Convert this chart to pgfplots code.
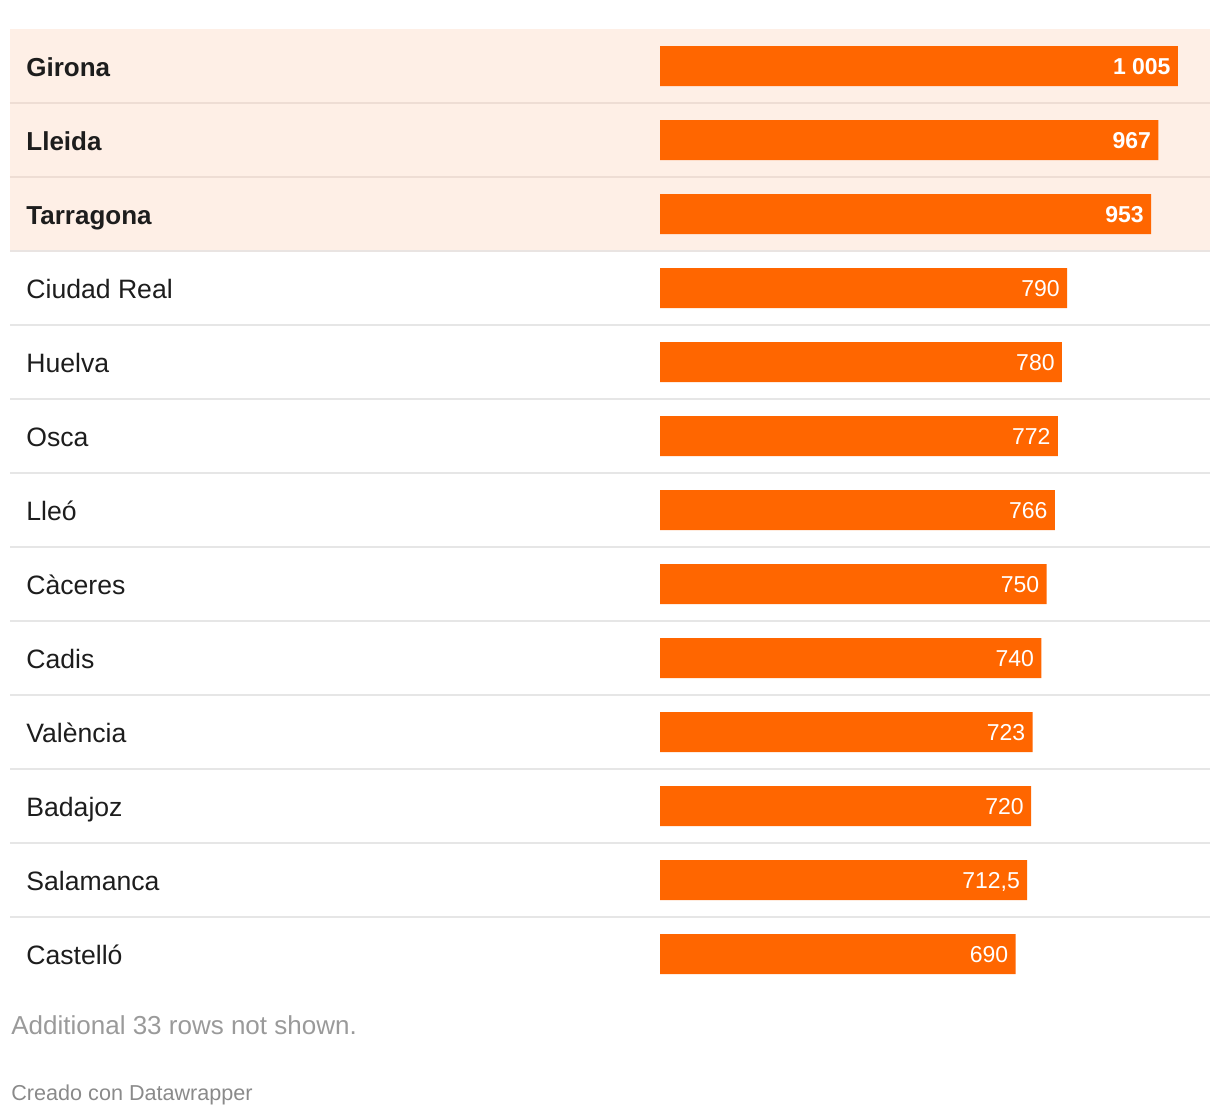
\documentclass[border=0pt]{standalone}
\usepackage{pgfplots}
\pgfplotsset{compat=1.18}
\usepackage{fontspec}
\setmainfont{Liberation Sans}
\definecolor{barorange}{HTML}{FF6600}
\definecolor{hlbg}{HTML}{FEEFE6}
\definecolor{hlline}{HTML}{EEDDD4}
\definecolor{rowline}{HTML}{E6E6E6}
\definecolor{edgeline}{HTML}{E9E4E2}
\definecolor{labeltext}{HTML}{1D1D1D}
\definecolor{notegray}{HTML}{9A9A9A}
\definecolor{creditgray}{HTML}{8A8A8A}

\newcommand{\hl}[1]{{\fontsize{13}{16}\selectfont\bfseries #1}}

\pgfplotsset{rowframe/.style={
  at={(5pt,62.5pt)}, anchor=south west,
  width=600pt, height=481pt, scale only axis,
  xmin=-1261.2, xmax=1067.2,
  ymin=-0.5, ymax=12.5, y dir=reverse,
  axis line style={draw=none},
  major tick length=0pt,
  clip=false,
}}

\begin{document}
\begin{tikzpicture}
\path (0,0) rectangle (610pt,558pt);
% row backgrounds and separators
\begin{axis}[rowframe, xtick=\empty, ytick=\empty]
  \fill[hlbg] (axis cs:-1261.2,-0.5) rectangle (axis cs:1067.2,2.5);
  \draw[hlline, line width=1pt] (axis cs:-1261.2,0.5) -- (axis cs:1067.2,0.5);
  \draw[hlline, line width=1pt] (axis cs:-1261.2,1.5) -- (axis cs:1067.2,1.5);
  \draw[edgeline, line width=1pt] (axis cs:-1261.2,2.5) -- (axis cs:1067.2,2.5);
  \pgfplotsinvokeforeach{3,...,11}{
    \draw[rowline, line width=1pt] (axis cs:-1261.2,#1+0.5) -- (axis cs:1067.2,#1+0.5);
  }
\end{axis}
% bars and labels
\begin{axis}[
  rowframe,
  xtick=\empty,
  ytick={0,...,12},
  yticklabels={\hl{Girona},\hl{Lleida},\hl{Tarragona},Ciudad Real,Huelva,Osca,Lleó,Càceres,Cadis,València,Badajoz,Salamanca,Castelló},
  yticklabel style={anchor=base west, inner sep=0pt, xshift=8pt, yshift=-5pt,
    font=\fontsize{13.3}{16}\selectfont, text=labeltext},
  xbar, bar width=20pt, bar shift=0pt,
  point meta=explicit symbolic,
  every node near coord/.append style={anchor=base east, inner sep=0pt,
    xshift=-3.5pt, yshift=-4.2pt, text=white, font=\fontsize{11.5}{14}\selectfont},
]
  \addplot[fill=barorange, draw=none,
    nodes near coords={\bfseries\pgfplotspointmeta}]
    coordinates {(1005,0) [1~005] (967,1) [967] (953,2) [953]};
  \addplot[fill=barorange, draw=none,
    nodes near coords={\pgfplotspointmeta}]
    coordinates {(790,3) [790] (780,4) [780] (772,5) [772] (766,6) [766]
      (750,7) [750] (740,8) [740] (723,9) [723] (720,10) [720]
      (712.5,11) [712,5] (690,12) [690]};
\end{axis}
\node[anchor=base west, inner sep=0pt, text=notegray, font=\fontsize{13}{15}\selectfont]
  at (5.5pt,41pt) {Additional 33 rows not shown.};
\node[anchor=base west, inner sep=0pt, text=creditgray, font=\fontsize{10.8}{13}\selectfont]
  at (5.5pt,8pt) {Creado con Datawrapper};
\end{tikzpicture}
\end{document}
